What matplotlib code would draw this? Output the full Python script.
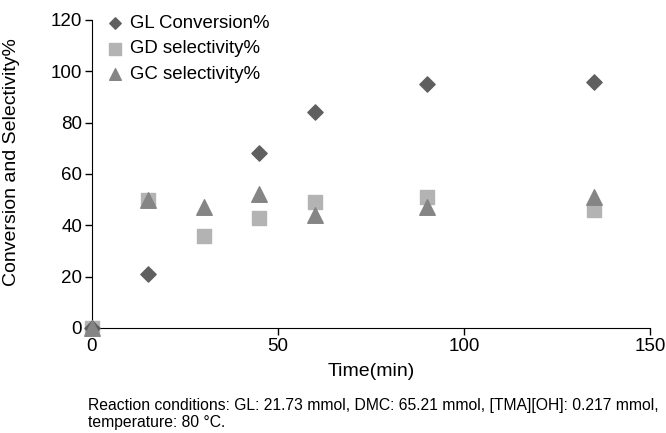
import matplotlib.pyplot as plt

plt.rcParams['font.family'] = ['Liberation Sans', 'DejaVu Sans']

time_gl = [0, 15, 45, 60, 90, 135]
gl_conversion = [0, 21, 68, 84, 95, 96]

time_sel = [0, 15, 30, 45, 60, 90, 135]
gd_selectivity = [0, 50, 36, 43, 49, 51, 46]
gc_selectivity = [0, 50, 47, 52, 44, 47, 51]

fig = plt.figure(figsize=(6.66, 4.33), dpi=100)
ax = fig.add_axes([0.138, 0.2425, 0.838, 0.7115])

ax.scatter(time_gl, gl_conversion, marker='D', s=60, color='#5f5f5f',
           label='GL Conversion%', zorder=3, clip_on=False)
ax.scatter(time_sel, gd_selectivity, marker='s', s=115, color='#b3b3b3',
           label='GD selectivity%', zorder=2, clip_on=False)
ax.scatter(time_sel, gc_selectivity, marker='^', s=125, color='#858585',
           label='GC selectivity%', zorder=4, clip_on=False)

ax.set_xlim(0, 150)
ax.set_ylim(0, 120)
ax.set_xticks([0, 50, 100, 150])
ax.set_yticks([0, 20, 40, 60, 80, 100, 120])
ax.spines['top'].set_visible(False)
ax.spines['right'].set_visible(False)
ax.tick_params(labelsize=13.5, length=5, width=1, pad=2)
ax.set_xlabel('Time(min)', fontsize=14, labelpad=6)
ax.set_ylabel('Conversion and Selectivity%', fontsize=14)
ax.yaxis.set_label_coords(-0.128, 0.54)

leg = ax.legend(loc='upper left', frameon=False, fontsize=13.4, handletextpad=0.3,
                handlelength=1.0, borderaxespad=0.0, bbox_to_anchor=(0.012, 1.04),
                labelspacing=0.45, markerscale=0.75)

fig.text(0.132, 0.015, 'Reaction conditions: GL: 21.73 mmol, DMC: 65.21 mmol, [TMA][OH]: 0.217 mmol,\ntemperature: 80 \u00b0C.',
         fontsize=11.3, linespacing=1.1)

plt.savefig('out.png', dpi=100)
